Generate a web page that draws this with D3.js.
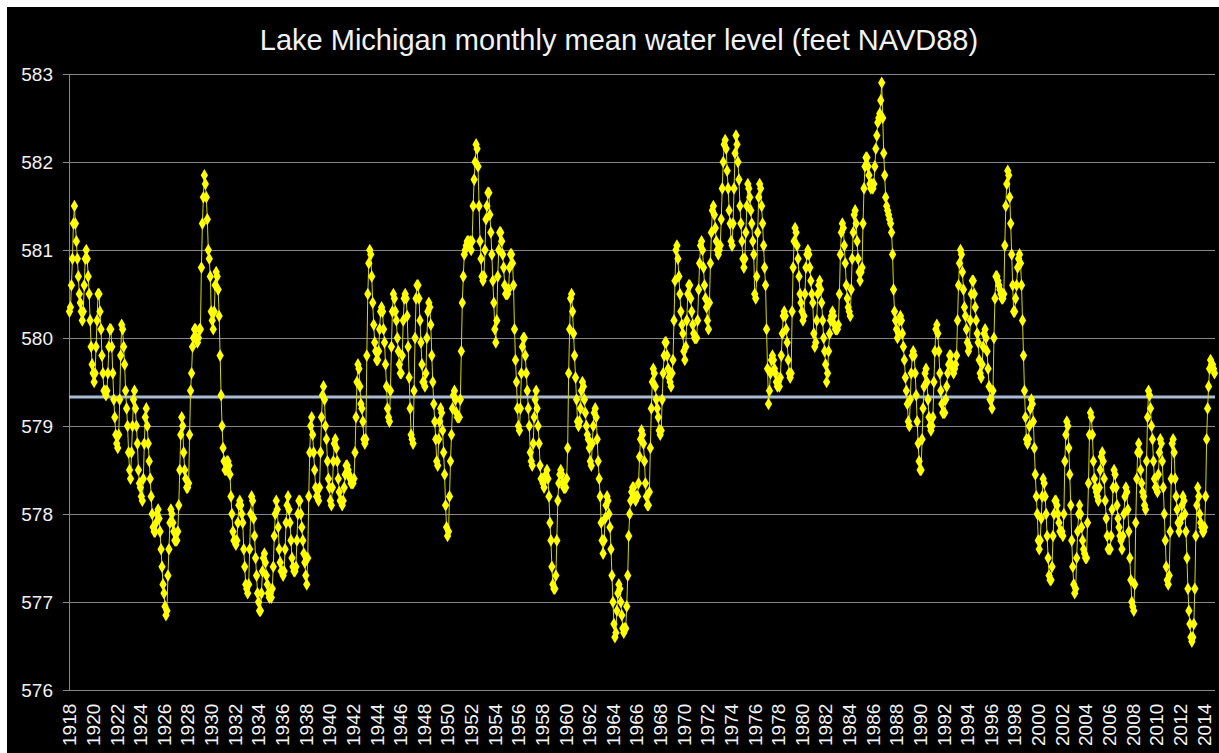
<!DOCTYPE html>
<html lang="en">
<head>
<meta charset="UTF-8">
<title>Lake Michigan monthly mean water level</title>
<script src="https://cdn.jsdelivr.net/npm/d3@7"></script>
<style>
  body { margin: 0; background: #fff; }
  svg { display: block; font-family: 'Liberation Sans', Arial, sans-serif; }
</style>
</head>
<body>
<svg id="chart" width="1219" height="753"></svg>
<script>
// first year of the monthly series (Jan)
var startYear = 1918;

// monthly mean level, feet NAVD88, Jan 1918 .. Dec 2014 (one row per year)
var monthlyLevel = [
  580.3, 580.35, 580.6, 580.9, 581.3, 581.5, 581.3, 581.1, 580.9, 580.7, 580.5, 580.4,
  580.3, 580.2, 580.3, 580.6, 580.9, 581.0, 580.9, 580.7, 580.5, 580.2, 579.9, 579.7,
  579.6, 579.5, 579.6, 579.9, 580.2, 580.5, 580.5, 580.3, 580.1, 579.8, 579.6, 579.4,
  579.4, 579.35, 579.4, 579.6, 579.9, 580.1, 580.1, 579.9, 579.6, 579.3, 579.1, 578.9,
  578.8, 578.75, 578.9, 579.3, 579.8, 580.15, 580.1, 579.9, 579.7, 579.4, 579.2, 579.0,
  578.7, 578.5, 578.4, 578.7, 579.0, 579.3, 579.4, 579.2, 579.0, 578.8, 578.5, 578.35,
  578.3, 578.2, 578.15, 578.4, 578.8, 579.1, 579.2, 579.0, 578.8, 578.6, 578.4, 578.2,
  578.0, 577.85, 577.8, 577.8, 577.9, 578.0, 578.05, 577.95, 577.8, 577.6, 577.4, 577.2,
  577.1, 576.95, 576.85, 576.9, 577.3, 577.6, 577.9, 578.05, 578.0, 577.9, 577.8, 577.7,
  577.7, 577.7, 577.8, 578.1, 578.5, 578.9, 579.1, 579.0, 578.7, 578.5, 578.4, 578.3,
  578.3, 578.35, 578.9, 579.4, 579.6, 579.9, 580.0, 580.1, 580.1, 580.0, 579.95, 580.0,
  580.1, 580.1, 580.8, 581.3, 581.6, 581.85, 581.75, 581.6, 581.35, 581.0, 580.9, 580.7,
  580.3, 580.2, 580.1, 580.3, 580.6, 580.75, 580.7, 580.55, 580.25, 579.8, 579.35, 579.0,
  578.75, 578.6, 578.5, 578.5, 578.6, 578.6, 578.55, 578.45, 578.2, 578.0, 577.8, 577.7,
  577.7, 577.65, 577.7, 577.9, 578.1, 578.15, 578.1, 578.0, 577.9, 577.6, 577.4, 577.2,
  577.15, 577.1, 577.2, 577.6, 578.0, 578.2, 578.15, 577.95, 577.75, 577.5, 577.3, 577.1,
  577.0, 576.9, 576.9, 577.1, 577.35, 577.5, 577.55, 577.45, 577.3, 577.2, 577.1, 577.05,
  577.1, 577.05, 577.15, 577.4, 577.75, 578.0, 578.15, 578.05, 577.85, 577.6, 577.45, 577.35,
  577.35, 577.3, 577.35, 577.6, 577.9, 578.1, 578.2, 578.05, 577.9, 577.7, 577.5, 577.4,
  577.35, 577.35, 577.4, 577.7, 578.0, 578.15, 578.15, 578.0, 577.85, 577.7, 577.55, 577.45,
  577.3, 577.2, 577.5, 578.2, 578.7, 579.0, 579.1, 578.9, 578.7, 578.5, 578.3, 578.2,
  578.2, 578.15, 578.3, 578.7, 579.1, 579.35, 579.45, 579.3, 579.0, 578.85, 578.6, 578.4,
  578.3, 578.15, 578.1, 578.3, 578.6, 578.8, 578.85, 578.75, 578.6, 578.4, 578.25, 578.15,
  578.15, 578.1, 578.15, 578.3, 578.45, 578.55, 578.55, 578.5, 578.45, 578.4, 578.35, 578.35,
  578.35, 578.4, 578.7, 579.1, 579.5, 579.7, 579.65, 579.45, 579.25, 579.2, 579.05, 578.85,
  578.8, 578.85, 579.8, 580.5, 580.85, 581.0, 580.95, 580.7, 580.4, 580.15, 579.95, 579.85,
  579.75, 579.75, 579.85, 580.1, 580.3, 580.35, 580.3, 580.1, 579.95, 579.7, 579.45, 579.2,
  579.1, 579.05, 579.4, 579.9, 580.3, 580.5, 580.45, 580.3, 580.2, 580.0, 579.85, 579.7,
  579.6, 579.6, 579.8, 580.2, 580.45, 580.5, 580.45, 580.25, 579.9, 579.55, 579.2, 578.9,
  578.85, 578.8, 579.4, 580.0, 580.45, 580.6, 580.6, 580.45, 580.2, 579.95, 579.7, 579.5,
  579.5, 579.45, 579.6, 580.0, 580.3, 580.4, 580.35, 580.15, 579.8, 579.5, 579.25, 579.05,
  578.85, 578.6, 578.55, 578.85, 579.05, 579.2, 579.15, 578.95, 578.7, 578.45, 578.1, 577.85,
  577.75, 577.8, 578.2, 578.6, 578.9, 579.2, 579.35, 579.4, 579.3, 579.15, 579.1, 579.1,
  579.1, 579.3, 579.85, 580.4, 580.7, 580.95, 581.0, 581.05, 581.1, 581.1, 581.05, 581.1,
  581.0, 581.1, 581.5, 581.8, 582.0, 582.2, 582.15, 581.95, 581.5, 581.1, 580.9, 580.7,
  580.65, 580.7, 581.0, 581.35, 581.5, 581.65, 581.65, 581.4, 581.2, 580.95, 580.65, 580.4,
  580.1, 579.95, 580.2, 580.7, 581.0, 581.2, 581.2, 581.1, 580.95, 580.8, 580.6, 580.5,
  580.5, 580.5, 580.55, 580.8, 580.95, 580.95, 580.85, 580.6, 580.1, 579.75, 579.5, 579.2,
  579.0, 578.95, 579.2, 579.6, 579.9, 580.0, 580.0, 579.8, 579.6, 579.4, 579.2, 579.0,
  578.7, 578.6, 578.55, 578.8, 579.1, 579.3, 579.4, 579.2, 579.0, 578.8, 578.55, 578.4,
  578.4, 578.35, 578.3, 578.4, 578.45, 578.5, 578.4, 578.2, 577.9, 577.7, 577.4, 577.2,
  577.15, 577.15, 577.3, 577.7, 578.15, 578.35, 578.45, 578.5, 578.45, 578.35, 578.3, 578.3,
  578.3, 578.4, 578.75, 579.6, 580.1, 580.45, 580.5, 580.3, 580.05, 579.8, 579.55, 579.3,
  579.05, 579.0, 579.05, 579.2, 579.4, 579.5, 579.45, 579.3, 579.15, 579.0, 578.9, 578.85,
  578.75, 578.6, 578.55, 578.8, 579.0, 579.15, 579.2, 579.1, 578.85, 578.6, 578.4, 578.2,
  577.9, 577.7, 577.55, 577.7, 577.95, 578.1, 578.2, 578.15, 578.0, 577.85, 577.6, 577.3,
  577.0, 576.75, 576.6, 576.65, 576.9, 577.1, 577.2, 577.15, 577.0, 576.85, 576.7, 576.65,
  576.7, 576.7, 576.95, 577.3, 577.75, 578.0, 578.15, 578.25, 578.3, 578.3, 578.2, 578.15,
  578.2, 578.2, 578.35, 578.65, 578.85, 578.95, 578.9, 578.8, 578.6, 578.35, 578.2, 578.1,
  578.1, 578.25, 578.75, 579.2, 579.5, 579.65, 579.6, 579.45, 579.3, 579.2, 579.1, 578.95,
  578.9, 578.95, 579.3, 579.6, 579.8, 579.95, 579.95, 579.8, 579.65, 579.55, 579.5, 579.45,
  579.6, 579.75, 580.2, 580.65, 581.0, 581.05, 580.9, 580.7, 580.5, 580.3, 580.15, 580.05,
  579.85, 579.75, 579.9, 580.2, 580.5, 580.6, 580.6, 580.45, 580.3, 580.15, 580.05, 580.0,
  580.0, 580.0, 580.2, 580.55, 580.85, 581.05, 581.1, 581.0, 580.8, 580.6, 580.45, 580.35,
  580.2, 580.1, 580.4, 580.85, 581.2, 581.45, 581.5, 581.4, 581.25, 581.1, 581.0, 580.95,
  581.0, 581.05, 581.35, 581.7, 582.0, 582.2, 582.25, 582.15, 581.9, 581.7, 581.45, 581.3,
  581.1, 581.05, 581.3, 581.7, 582.1, 582.3, 582.2, 582.0, 581.8, 581.5, 581.3, 581.1,
  580.9, 580.8, 580.9, 581.2, 581.5, 581.75, 581.7, 581.6, 581.45, 581.3, 581.1, 580.95,
  580.5, 580.45, 580.7, 581.2, 581.6, 581.75, 581.7, 581.5, 581.3, 581.05, 580.8, 580.6,
  580.1, 579.65, 579.25, 579.4, 579.6, 579.75, 579.8, 579.75, 579.65, 579.6, 579.5, 579.45,
  579.5, 579.45, 579.55, 579.8, 580.05, 580.25, 580.3, 580.25, 580.1, 579.95, 579.75, 579.6,
  579.55, 579.6, 580.3, 580.8, 581.1, 581.25, 581.2, 581.05, 580.9, 580.7, 580.5, 580.4,
  580.3, 580.2, 580.25, 580.5, 580.8, 580.95, 581.0, 580.95, 580.8, 580.65, 580.5, 580.4,
  580.05, 579.9, 579.95, 580.2, 580.5, 580.6, 580.65, 580.55, 580.4, 580.2, 580.0, 579.85,
  579.7, 579.5, 579.6, 579.85, 580.05, 580.2, 580.25, 580.3, 580.25, 580.15, 580.1, 580.1,
  580.1, 580.15, 580.5, 580.95, 581.2, 581.3, 581.25, 581.05, 580.85, 580.6, 580.45, 580.35,
  580.3, 580.25, 580.55, 580.9, 581.2, 581.4, 581.45, 581.3, 581.1, 580.9, 580.75, 580.65,
  580.75, 580.8, 581.3, 581.7, 581.95, 582.05, 582.05, 581.95, 581.85, 581.75, 581.7, 581.75,
  581.7, 581.75, 581.95, 582.15, 582.3, 582.45, 582.5, 582.55, 582.7, 582.9, 582.5, 582.1,
  581.85, 581.6, 581.5, 581.45, 581.4, 581.35, 581.3, 581.2, 580.95, 580.55, 580.3, 580.2,
  580.1, 580.0, 580.05, 580.2, 580.25, 580.2, 580.05, 579.9, 579.75, 579.55, 579.4, 579.25,
  579.05, 579.0, 579.3, 579.6, 579.8, 579.85, 579.8, 579.6, 579.35, 579.05, 578.8, 578.6,
  578.5, 578.5, 578.85, 579.2, 579.45, 579.6, 579.65, 579.5, 579.3, 579.1, 579.0, 578.95,
  579.0, 579.1, 579.5, 579.85, 580.1, 580.15, 580.05, 579.85, 579.6, 579.4, 579.25, 579.15,
  579.15, 579.15, 579.3, 579.45, 579.6, 579.7, 579.8, 579.8, 579.7, 579.65, 579.6, 579.65,
  579.7, 579.8, 580.2, 580.6, 580.85, 581.0, 580.95, 580.75, 580.55, 580.35, 580.25, 580.1,
  579.95, 579.85, 579.9, 580.2, 580.5, 580.65, 580.65, 580.5, 580.35, 580.2, 580.05, 579.95,
  579.75, 579.6, 579.55, 579.7, 579.9, 580.05, 580.1, 580.0, 579.85, 579.65, 579.45, 579.3,
  579.3, 579.2, 579.4, 580.0, 580.45, 580.7, 580.7, 580.65, 580.6, 580.55, 580.5, 580.45,
  580.45, 580.5, 581.05, 581.5, 581.75, 581.9, 581.85, 581.6, 581.3, 580.95, 580.6, 580.3,
  580.3, 580.45, 580.6, 580.8, 580.9, 580.95, 580.85, 580.6, 580.2, 579.8, 579.4, 579.1,
  578.85, 578.8, 578.85, 579.0, 579.2, 579.3, 579.25, 579.05, 578.75, 578.45, 578.2, 578.0,
  577.7, 577.6, 577.7, 577.95, 578.2, 578.4, 578.35, 578.2, 578.0, 577.75, 577.5, 577.3,
  577.25, 577.25, 577.4, 577.75, 578.0, 578.15, 578.15, 578.1, 578.0, 577.9, 577.8, 577.8,
  577.8, 577.75, 578.0, 578.6, 578.9, 579.05, 579.0, 578.75, 578.45, 578.1, 577.7, 577.4,
  577.2, 577.1, 577.15, 577.5, 577.8, 578.0, 578.1, 578.0, 577.85, 577.7, 577.6, 577.55,
  577.5, 577.5, 577.9, 578.35, 578.9, 579.15, 579.1, 578.9, 578.6, 578.4, 578.3, 578.25,
  578.2, 578.15, 578.3, 578.5, 578.65, 578.7, 578.6, 578.4, 578.15, 577.95, 577.75, 577.6,
  577.6, 577.6, 577.75, 578.05, 578.3, 578.5, 578.45, 578.3, 578.1, 577.95, 577.85, 577.75,
  577.7, 577.6, 577.75, 578.0, 578.2, 578.3, 578.25, 578.05, 577.8, 577.5, 577.25, 577.0,
  576.95, 576.9, 577.2, 577.9, 578.4, 578.7, 578.8, 578.7, 578.5, 578.35, 578.25, 578.2,
  578.1, 578.05, 578.6, 579.1, 579.4, 579.35, 579.2, 579.0, 578.85, 578.6, 578.4, 578.3,
  578.3, 578.25, 578.45, 578.7, 578.85, 578.8, 578.6, 578.3, 578.0, 577.7, 577.4, 577.25,
  577.2, 577.3, 577.8, 578.4, 578.8, 578.85, 578.7, 578.4, 578.2, 578.05, 577.9, 577.8,
  577.9, 577.95, 578.1, 578.2, 578.15, 578.0, 577.8, 577.5, 577.15, 576.9, 576.75, 576.6,
  576.55, 576.6, 576.75, 577.15, 577.75, 578.1, 578.3, 578.2, 578.0, 577.9, 577.85, 577.8,
  577.8, 577.85, 578.2, 578.85, 579.2, 579.45, 579.65, 579.75, 579.7, 579.7, 579.65, 579.6
];

// long-term average drawn as a flat reference line
var averageLevel = 579.33;

// axis ticks
var yTicks = [576, 577, 578, 579, 580, 581, 582, 583];
var xTickYears = d3.range(1918, 2015, 2);

var titleText = "Lake Michigan monthly mean water level (feet NAVD88)";

var W = 1219, H = 753;
var margin = {left: 69, right: 4, top: 74, bottom: 63};

var svg = d3.select("#chart");

// black panel (white strip on top and left like the original slide)
svg.append("rect")
  .attr("x", 7).attr("y", 7)
  .attr("width", W - 7).attr("height", H - 7)
  .attr("fill", "#000");

var data = monthlyLevel.map(function (v, i) { return {i: i, v: v}; });

var x = d3.scaleBand()
  .domain(d3.range(data.length))
  .range([margin.left, W - margin.right]);

var cx = function (i) { return x(i) + x.bandwidth() / 2; };

var y = d3.scaleLinear()
  .domain([576, 583])
  .range([H - margin.bottom, margin.top]);

// gridlines
svg.append("g")
  .selectAll("line")
  .data(yTicks)
  .enter().append("line")
  .attr("x1", margin.left - 6)
  .attr("x2", W - margin.right)
  .attr("y1", function (d) { return Math.round(y(d)) + 0.5; })
  .attr("y2", function (d) { return Math.round(y(d)) + 0.5; })
  .attr("stroke", "#868686")
  .attr("stroke-width", 1);

// y axis line
svg.append("line")
  .attr("x1", margin.left + 0.5).attr("x2", margin.left + 0.5)
  .attr("y1", y(583)).attr("y2", y(576))
  .attr("stroke", "#868686");

// y labels
svg.append("g")
  .selectAll("text")
  .data(yTicks)
  .enter().append("text")
  .attr("x", 53)
  .attr("y", function (d) { return y(d); })
  .attr("dy", "0.35em")
  .attr("text-anchor", "end")
  .attr("fill", "#f2f2f2")
  .style("font-size", "19px")
  .text(function (d) { return d; });

// x labels, rotated
svg.append("g")
  .selectAll("text")
  .data(xTickYears)
  .enter().append("text")
  .attr("transform", function (d) {
    var px = cx((d - startYear) * 12);
    return "translate(" + px + "," + (H - 7) + ") rotate(-90)";
  })
  .attr("dy", "0.36em")
  .attr("text-anchor", "start")
  .attr("fill", "#f2f2f2")
  .style("font-size", "19px")
  .text(function (d) { return d; });

// average line
svg.append("line")
  .attr("x1", margin.left).attr("x2", W - margin.right)
  .attr("y1", y(averageLevel)).attr("y2", y(averageLevel))
  .attr("stroke", "#a9bcd6")
  .attr("stroke-width", 3);

// series line
var line = d3.line()
  .x(function (d) { return cx(d.i); })
  .y(function (d) { return y(d.v); });

svg.append("path")
  .datum(data)
  .attr("d", line)
  .attr("fill", "none")
  .attr("stroke", "#d8d800")
  .attr("stroke-width", 1);

// diamond markers
var diamond = d3.symbol().type(d3.symbolDiamond).size(46);

svg.append("g")
  .selectAll("path")
  .data(data)
  .enter().append("path")
  .attr("d", diamond)
  .attr("transform", function (d) {
    return "translate(" + cx(d.i) + "," + y(d.v) + ")";
  })
  .attr("fill", "#ffff00");

// title
svg.append("text")
  .attr("x", 619)
  .attr("y", 50)
  .attr("text-anchor", "middle")
  .attr("fill", "#f2f2f2")
  .style("font-size", "29px")
  .text(titleText);
</script>
</body>
</html>
